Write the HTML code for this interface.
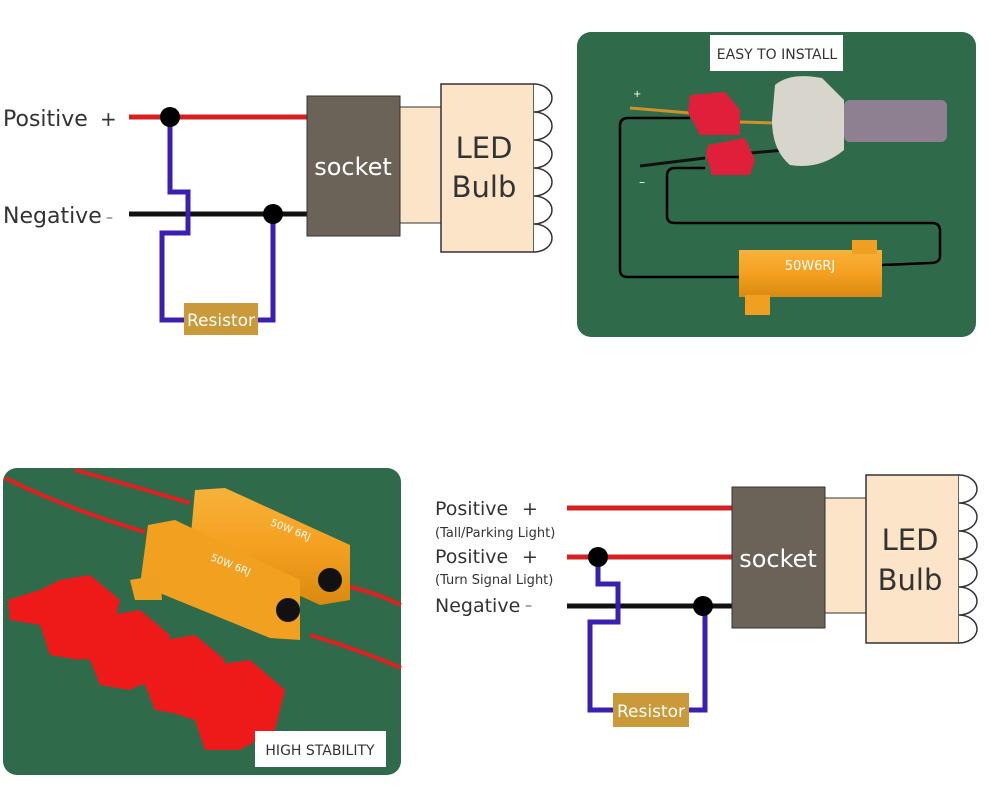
<!DOCTYPE html>
<html><head><meta charset="utf-8"><style>
html,body{margin:0;padding:0;background:#fff;}
svg{display:block;}
text{font-family:"DejaVu Sans","Liberation Sans",sans-serif;}
</style></head><body>
<svg width="1000" height="801" viewBox="0 0 1000 801" xmlns="http://www.w3.org/2000/svg">
<defs>
<linearGradient id="gold" x1="0" y1="0" x2="0" y2="1">
<stop offset="0" stop-color="#f7b23a"/><stop offset="0.5" stop-color="#f5a020"/><stop offset="1" stop-color="#d98a10"/>
</linearGradient>
</defs>
<rect width="1000" height="801" fill="#fff"/>

<!-- ===== TOP LEFT DIAGRAM ===== -->
<text x="3" y="126" font-size="22" fill="#333">Positive</text>
<text x="100" y="126" font-size="20" fill="#333">+</text>
<text x="3" y="223" font-size="22" fill="#333">Negative</text>
<text x="106" y="222" font-size="14" fill="#555">–</text>
<line x1="129" y1="117" x2="307" y2="117" stroke="#d42020" stroke-width="5"/>
<line x1="129" y1="214" x2="307" y2="214" stroke="#111" stroke-width="5"/>
<polyline points="170,117 170,192 188,192 188,233 162,233 162,320 186,320" fill="none" stroke="#3a1fb0" stroke-width="5"/>
<polyline points="273,214 273,320 256,320" fill="none" stroke="#3a1fb0" stroke-width="5"/>
<circle cx="170" cy="117" r="10" fill="#000"/>
<circle cx="273" cy="214" r="10" fill="#000"/>
<rect x="184" y="303" width="74" height="32" fill="#c9993a"/>
<text x="221" y="326" font-size="17" fill="#fff" text-anchor="middle">Resistor</text>
<rect x="307" y="96" width="93" height="140" fill="#6b6358" stroke="#333" stroke-width="1"/>
<text x="353" y="175" font-size="24" fill="#fff" text-anchor="middle">socket</text>
<rect x="400" y="107" width="41" height="116" fill="#fbe4c8" stroke="#333" stroke-width="1"/>
<rect x="441" y="84" width="93" height="168" fill="#fbe4c8" stroke="#333" stroke-width="1.5"/>
<path d="M534,84 a18,14 0 0 1 0,28 a18,14 0 0 1 0,28 a18,14 0 0 1 0,28 a18,14 0 0 1 0,28 a18,14 0 0 1 0,28 a18,14 0 0 1 0,28" fill="#fff" stroke="#333" stroke-width="1.5"/>
<text x="484" y="158" font-size="29" fill="#333" text-anchor="middle">LED</text>
<text x="484" y="197" font-size="29" fill="#333" text-anchor="middle">Bulb</text>

<!-- ===== TOP RIGHT PHOTO ===== -->
<rect x="577" y="32" width="399" height="305" rx="14" fill="#2f6a4b"/>
<rect x="710" y="35" width="133" height="36" fill="#fff"/>
<text x="777" y="59" font-size="14" fill="#333" text-anchor="middle">EASY TO INSTALL</text>
<path d="M690,118 L628,118 Q620,118 620,126 L620,270 Q620,277 628,277 L740,277" fill="none" stroke="#000" stroke-width="2.5"/>
<path d="M705,168 L675,168 Q667,168 667,176 L667,216 Q667,223 675,223 L932,223 Q940,223 940,231 L940,256 Q940,263 930,263 L882,265" fill="none" stroke="#000" stroke-width="2.5"/>
<line x1="630" y1="108" x2="690" y2="113" stroke="#d0902a" stroke-width="3"/>
<line x1="640" y1="166" x2="705" y2="158" stroke="#111" stroke-width="3"/>
<line x1="740" y1="122" x2="775" y2="123" stroke="#d0902a" stroke-width="3"/>
<line x1="750" y1="153" x2="785" y2="150" stroke="#111" stroke-width="3"/>
<text x="633" y="97" font-size="10" fill="#fff">+</text>
<text x="639" y="186" font-size="12" fill="#fff">–</text>
<polygon points="690,95 725,92 740,110 740,135 700,135 688,112" fill="#e0203a"/>
<polygon points="708,145 745,138 755,160 750,175 712,175 706,155" fill="#e0203a"/>
<path d="M775,85 Q790,72 822,78 L844,100 L844,150 Q820,170 790,165 Q772,150 772,120 Z" fill="#d8d6cc"/>
<rect x="844" y="100" width="103" height="42" rx="6" fill="#8e8090"/>
<rect x="739" y="250" width="143" height="47" fill="url(#gold)"/>
<rect x="745" y="295" width="25" height="20" fill="#f0a020"/>
<rect x="852" y="240" width="25" height="14" fill="#f0a020"/>
<text x="810" y="270" font-size="13" fill="#fff" text-anchor="middle">50W6RJ</text>

<!-- ===== BOTTOM LEFT PHOTO ===== -->
<rect x="3" y="468" width="398" height="307" rx="14" fill="#2f6a4b"/>
<path d="M75,470 Q130,485 190,503" fill="none" stroke="#e02020" stroke-width="4"/>
<path d="M5,478 Q70,510 145,532" fill="none" stroke="#e02020" stroke-width="4"/>
<path d="M340,585 Q370,590 401,605" fill="none" stroke="#e02020" stroke-width="4"/>
<path d="M310,635 Q360,650 401,668" fill="none" stroke="#e02020" stroke-width="4"/>
<polygon points="195,490 225,488 350,545 350,600 320,605 190,545" fill="url(#gold)"/>
<polygon points="148,525 175,520 300,580 300,640 270,638 140,585" fill="#f2a020"/>
<polygon points="130,580 160,575 162,600 135,600" fill="#f0a020"/>
<circle cx="288" cy="610" r="12" fill="#111"/>
<circle cx="330" cy="580" r="12" fill="#111"/>
<text x="270" y="525" font-size="10" fill="#fff" transform="rotate(22 270 525)">50W 6RJ</text>
<text x="210" y="560" font-size="10" fill="#fff" transform="rotate(22 210 560)">50W 6RJ</text>
<g fill="#ee1a1a">
<polygon points="60,580 90,575 120,600 110,640 80,660 50,655 40,625 10,620 8,600 40,590"/>
<polygon points="110,615 140,610 170,635 160,675 130,690 100,685 90,660 60,655 60,635 90,625"/>
<polygon points="165,640 195,635 225,660 215,700 185,715 155,710 145,685 115,680 115,660 145,650"/>
<polygon points="215,665 250,660 285,690 275,730 240,750 205,750 195,720 170,712 170,692 200,680"/>
</g>
<rect x="255" y="731" width="131" height="36" fill="#fff"/>
<text x="320" y="755" font-size="14" fill="#333" text-anchor="middle">HIGH STABILITY</text>

<!-- ===== BOTTOM RIGHT DIAGRAM ===== -->
<text x="435" y="515" font-size="19" fill="#333">Positive</text>
<text x="522" y="515" font-size="19" fill="#333">+</text>
<text x="435" y="537" font-size="13" fill="#333">(Tall/Parking Light)</text>
<text x="435" y="563" font-size="19" fill="#333">Positive</text>
<text x="522" y="563" font-size="19" fill="#333">+</text>
<text x="435" y="584" font-size="13" fill="#333">(Turn Signal Light)</text>
<text x="435" y="612" font-size="19" fill="#333">Negative</text>
<text x="525" y="610" font-size="14" fill="#555">–</text>
<line x1="567" y1="508" x2="732" y2="508" stroke="#d42020" stroke-width="5"/>
<line x1="567" y1="557" x2="732" y2="557" stroke="#d42020" stroke-width="5"/>
<line x1="567" y1="606" x2="732" y2="606" stroke="#111" stroke-width="5"/>
<polyline points="598,557 598,584 618,584 618,622 590,622 590,710 613,710" fill="none" stroke="#3a1fb0" stroke-width="5"/>
<polyline points="705,606 705,710 689,710" fill="none" stroke="#3a1fb0" stroke-width="5"/>
<circle cx="598" cy="557" r="10" fill="#000"/>
<circle cx="703" cy="606" r="10" fill="#000"/>
<rect x="613" y="693" width="76" height="34" fill="#c9993a"/>
<text x="651" y="717" font-size="17" fill="#fff" text-anchor="middle">Resistor</text>
<rect x="732" y="487" width="93" height="141" fill="#6b6358" stroke="#333" stroke-width="1"/>
<text x="778" y="567" font-size="24" fill="#fff" text-anchor="middle">socket</text>
<rect x="825" y="498" width="41" height="115" fill="#fbe4c8" stroke="#333" stroke-width="1"/>
<rect x="866" y="475" width="93" height="168" fill="#fbe4c8" stroke="#333" stroke-width="1.5"/>
<path d="M959,475 a18,14 0 0 1 0,28 a18,14 0 0 1 0,28 a18,14 0 0 1 0,28 a18,14 0 0 1 0,28 a18,14 0 0 1 0,28 a18,14 0 0 1 0,28" fill="#fff" stroke="#333" stroke-width="1.5"/>
<text x="910" y="550" font-size="29" fill="#333" text-anchor="middle">LED</text>
<text x="910" y="590" font-size="29" fill="#333" text-anchor="middle">Bulb</text>
</svg>
</body></html>
